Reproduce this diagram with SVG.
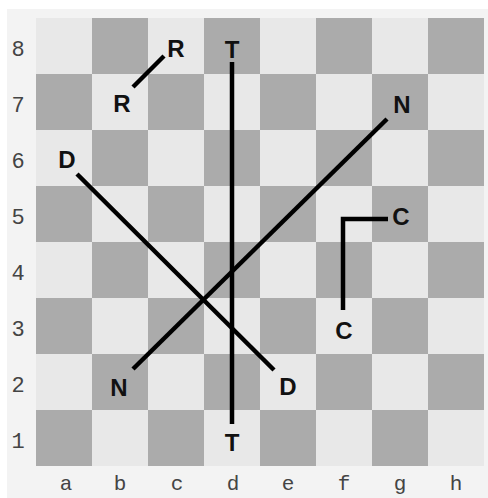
<svg xmlns="http://www.w3.org/2000/svg" width="488" height="498" viewBox="0 0 488 498">
<style>
.dk{fill:#ababab}
.rk{font-family:"Liberation Mono","Courier New",monospace;font-size:22px;fill:#444;text-anchor:middle}
.fl{font-size:21px}
.pc{font-family:"Liberation Sans",Arial,sans-serif;font-weight:bold;font-size:24px;fill:#111;text-anchor:middle}
.ln{stroke:#000;stroke-width:4.5;fill:none;stroke-linecap:butt}
</style>
<rect x="0" y="0" width="488" height="498" fill="#fff"/>
<rect x="7" y="9" width="481" height="489" fill="#f3f3f3"/>
<g id="board">
<rect x="36" y="18" width="448" height="448" fill="#e8e8e8"/>
<rect class="dk" x="92" y="18" width="56" height="56"/><rect class="dk" x="204" y="18" width="56" height="56"/><rect class="dk" x="316" y="18" width="56" height="56"/><rect class="dk" x="428" y="18" width="56" height="56"/>
<rect class="dk" x="36" y="74" width="56" height="56"/><rect class="dk" x="148" y="74" width="56" height="56"/><rect class="dk" x="260" y="74" width="56" height="56"/><rect class="dk" x="372" y="74" width="56" height="56"/>
<rect class="dk" x="92" y="130" width="56" height="56"/><rect class="dk" x="204" y="130" width="56" height="56"/><rect class="dk" x="316" y="130" width="56" height="56"/><rect class="dk" x="428" y="130" width="56" height="56"/>
<rect class="dk" x="36" y="186" width="56" height="56"/><rect class="dk" x="148" y="186" width="56" height="56"/><rect class="dk" x="260" y="186" width="56" height="56"/><rect class="dk" x="372" y="186" width="56" height="56"/>
<rect class="dk" x="92" y="242" width="56" height="56"/><rect class="dk" x="204" y="242" width="56" height="56"/><rect class="dk" x="316" y="242" width="56" height="56"/><rect class="dk" x="428" y="242" width="56" height="56"/>
<rect class="dk" x="36" y="298" width="56" height="56"/><rect class="dk" x="148" y="298" width="56" height="56"/><rect class="dk" x="260" y="298" width="56" height="56"/><rect class="dk" x="372" y="298" width="56" height="56"/>
<rect class="dk" x="92" y="354" width="56" height="56"/><rect class="dk" x="204" y="354" width="56" height="56"/><rect class="dk" x="316" y="354" width="56" height="56"/><rect class="dk" x="428" y="354" width="56" height="56"/>
<rect class="dk" x="36" y="410" width="56" height="56"/><rect class="dk" x="148" y="410" width="56" height="56"/><rect class="dk" x="260" y="410" width="56" height="56"/><rect class="dk" x="372" y="410" width="56" height="56"/>
</g>
<g id="ranks">
<text class="rk" x="18" y="56">8</text>
<text class="rk" x="18" y="112">7</text>
<text class="rk" x="18" y="168">6</text>
<text class="rk" x="18" y="224">5</text>
<text class="rk" x="18" y="280">4</text>
<text class="rk" x="18" y="336">3</text>
<text class="rk" x="18" y="392">2</text>
<text class="rk" x="18" y="448">1</text>
</g>
<g id="files">
<text class="rk fl" x="66" y="490">a</text>
<text class="rk fl" x="120" y="490">b</text>
<text class="rk fl" x="177" y="490">c</text>
<text class="rk fl" x="233" y="490">d</text>
<text class="rk fl" x="288" y="490">e</text>
<text class="rk fl" x="344" y="490">f</text>
<text class="rk fl" x="400" y="490">g</text>
<text class="rk fl" x="456" y="490">h</text>
</g>
<g id="connectors">
<line class="ln" x1="133" y1="87" x2="164" y2="56"/>
<line class="ln" x1="232" y1="62" x2="232" y2="424"/>
<line class="ln" x1="77" y1="174" x2="274" y2="370"/>
<line class="ln" x1="387" y1="119" x2="133" y2="369"/>
<polyline class="ln" points="388,219 343,219 343,310"/>
</g>
<g id="R1"><text class="pc" x="176" y="57">R</text></g>
<g id="R2"><text class="pc" x="122" y="112">R</text></g>
<g id="T1"><text class="pc" x="232" y="58">T</text></g>
<g id="T2"><text class="pc" x="232" y="451">T</text></g>
<g id="D1"><text class="pc" x="67" y="168">D</text></g>
<g id="D2"><text class="pc" x="288" y="395">D</text></g>
<g id="N1"><text class="pc" x="402" y="113">N</text></g>
<g id="N2"><text class="pc" x="119" y="396">N</text></g>
<g id="C1"><text class="pc" x="401" y="225">C</text></g>
<g id="C2"><text class="pc" x="344" y="339">C</text></g>
</svg>
